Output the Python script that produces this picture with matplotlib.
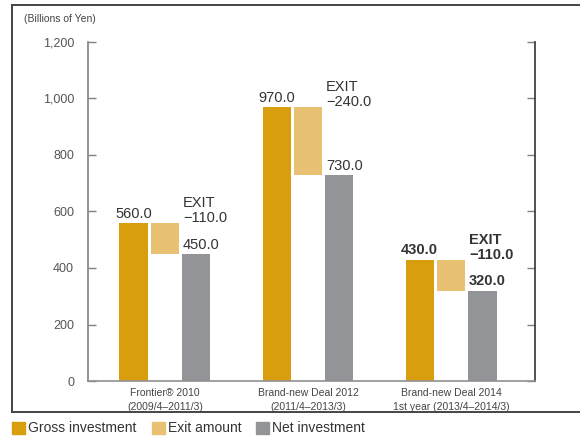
import matplotlib.pyplot as plt
import matplotlib.patches as mpatches
import numpy as np

plt.rcParams['font.family'] = ['Liberation Sans', 'DejaVu Sans']

categories = ['Frontier\u00ae 2010\n(2009/4\u20132011/3)',
              'Brand-new Deal 2012\n(2011/4\u20132013/3)',
              'Brand-new Deal 2014\n1st year (2013/4\u20132014/3)']
gross = [560.0, 970.0, 430.0]
exit_amt = [110.0, 240.0, 110.0]
net = [450.0, 730.0, 320.0]
bold_group = [False, False, True]
legend_labels = ['Gross investment', 'Exit amount', 'Net investment']

c_gross = '#d99e0e'
c_exit = '#e9c173'
c_net = '#939497'
txt = '#333333'

fig = plt.figure(figsize=(5.8, 4.37), dpi=100)
ax = fig.add_axes([88 / 580, 1 - 381 / 437, (535 - 88) / 580, (381 - 42) / 437])

x = np.arange(len(categories))
w = 0.196
off = 0.22

ax.bar(x - off, gross, w, color=c_gross, zorder=2)
ax.bar(x, exit_amt, w, bottom=net, color=c_exit, zorder=2)
ax.bar(x + off, net, w, color=c_net, zorder=2)

for i in range(len(x)):
    fw = 'bold' if bold_group[i] else 'normal'
    ax.text(x[i] - off, gross[i] + 8, f'{gross[i]:.1f}', ha='center', va='bottom',
            fontsize=10.5, color=txt, fontweight=fw)
    ax.text(x[i] + off - w / 2 + 0.005, net[i] + 8, f'{net[i]:.1f}', ha='left',
            va='bottom', fontsize=10.5, color=txt, fontweight=fw)
    ax.text(x[i] + off - w / 2 + 0.005, gross[i] - 8,
            f'EXIT\n\u2212{exit_amt[i]:.1f}', ha='left', va='bottom',
            fontsize=10.5, color=txt, fontweight=fw, linespacing=1.1)

ax.set_xlim(-0.538, 2.587)
ax.set_ylim(0, 1200)
ax.set_yticks(np.arange(0, 1201, 200))
ax.set_yticklabels([f'{v:,}' for v in range(0, 1201, 200)])
ax.set_xticks(x)
ax.set_xticklabels(categories, fontsize=7.5, color='#444444', linespacing=1.5)

ax.spines['top'].set_visible(False)
ax.spines['left'].set_color('#808080')
ax.spines['bottom'].set_color('#909090')
ax.spines['right'].set_color('#333333')
for s in ax.spines.values():
    s.set_linewidth(1.2)
ax.tick_params(axis='y', direction='in', length=6, width=1, color='#808080',
               labelsize=9, labelcolor='#555555', pad=10, right=True)
ax.tick_params(axis='x', length=0, pad=5)

fig.text(24 / 580, 1 - 19 / 437, '(Billions of Yen)', fontsize=7.5,
         color='#444444', va='center', ha='left')

# outer frame: left, top and bottom rules
frame_col = '#444444'
fig.add_artist(plt.Line2D([12 / 580, 12 / 580], [1 - 5 / 437, 1 - 412 / 437],
                          transform=fig.transFigure, color=frame_col, lw=1.4))
fig.add_artist(plt.Line2D([12 / 580, 1], [1 - 5 / 437, 1 - 5 / 437],
                          transform=fig.transFigure, color=frame_col, lw=1.4))
fig.add_artist(plt.Line2D([12 / 580, 1], [1 - 412 / 437, 1 - 412 / 437],
                          transform=fig.transFigure, color=frame_col, lw=1.4))

# legend squares and labels
leg_x = [12, 152, 256]
for lx, col, lab in zip(leg_x, [c_gross, c_exit, c_net], legend_labels):
    fig.add_artist(mpatches.Rectangle((lx / 580, 1 - 434 / 437), 13 / 580, 12 / 437,
                                      transform=fig.transFigure, color=col))
    fig.text((lx + 16) / 580, 1 - 428 / 437, lab, fontsize=10, color='#333333',
             va='center', ha='left')

fig.savefig('out.png', dpi=100)
